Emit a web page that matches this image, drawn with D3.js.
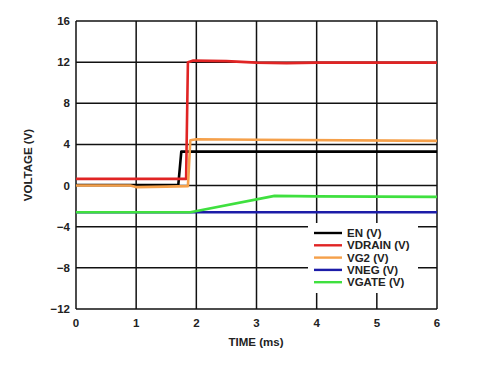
<!DOCTYPE html>
<html><head><meta charset="utf-8">
<script src="https://cdn.jsdelivr.net/npm/d3@7"></script>
<style>body{margin:0;background:#fff;}svg{display:block;}</style>
</head><body><svg id="c" width="483" height="365"></svg>
<script>
const xTicks = [0,1,2,3,4,5,6];
const yTicks = [-12,-8,-4,0,4,8,12,16];
const seriesNames = ["EN (V)","VDRAIN (V)","VG2 (V)","VNEG (V)","VGATE (V)"];
const seriesColors = ["#000000","#e02424","#f5a04a","#1c1ca8","#3fe03f"];
const enT = [0,1.70,1.75,6];
const enV = [0.05,0.05,3.3,3.3];
const vdrainT = [0,1.83,1.86,1.95,2.5,3.0,3.5,4.0,6];
const vdrainV = [0.65,0.65,12.0,12.15,12.1,11.95,11.9,11.95,11.95];
const vg2T = [0,0.9,1.0,1.5,1.86,1.9,2.0,3.0,6];
const vg2V = [0,0,-0.15,-0.1,-0.05,4.4,4.5,4.45,4.35];
const vnegT = [0,6];
const vnegV = [-2.6,-2.6];
const vgateT = [0,1.9,3.3,4,6];
const vgateV = [-2.6,-2.6,-1.0,-1.05,-1.1];

const svg = d3.select("#c");
const L=76,R=437,T=21,B=309;
const x = d3.scaleLinear().domain([0,6]).range([L,R]);
const y = d3.scaleLinear().domain([-12,16]).range([B,T]);
const font = "Liberation Sans, Arial, sans-serif";

// gridlines
const g = svg.append("g");
g.selectAll(".vx").data(xTicks).join("line")
 .attr("x1",d=>x(d)).attr("x2",d=>x(d)).attr("y1",T).attr("y2",B)
 .attr("stroke","#111").attr("stroke-width",1.5);
g.selectAll(".hy").data(yTicks).join("line")
 .attr("x1",L).attr("x2",R).attr("y1",d=>y(d)).attr("y2",d=>y(d))
 .attr("stroke","#111").attr("stroke-width",1.5);

// legend box background (covers grid)
svg.append("rect").attr("x",308).attr("y",223).attr("width",110).attr("height",70).attr("fill","#fff");

// series
const series = [
 {t:vnegT,v:vnegV,c:seriesColors[3]},
 {t:vgateT,v:vgateV,c:seriesColors[4]},
 {t:enT,v:enV,c:seriesColors[0]},
 {t:vdrainT,v:vdrainV,c:seriesColors[1]},
 {t:vg2T,v:vg2V,c:seriesColors[2]},
];
const line = d3.line().x(d=>x(d[0])).y(d=>y(d[1]));
series.forEach(s=>{
 svg.append("path").attr("d",line(s.t.map((t,i)=>[t,s.v[i]])))
  .attr("fill","none").attr("stroke",s.c).attr("stroke-width",2.6).attr("stroke-linejoin","round");
});

// axes labels
svg.append("g").selectAll("text").data(yTicks).join("text")
 .attr("x",70).attr("y",d=>y(d)+4).attr("text-anchor","end")
 .attr("font-family",font).attr("font-weight","bold").attr("font-size",11.5).attr("fill","#222")
 .text(d=>d<0?"\u2212"+Math.abs(d):d);
svg.append("g").selectAll("text").data(xTicks).join("text")
 .attr("x",d=>x(d)).attr("y",327).attr("text-anchor","middle")
 .attr("font-family",font).attr("font-weight","bold").attr("font-size",11.5).attr("fill","#222")
 .text(d=>d);
svg.append("text").attr("x",256).attr("y",346).attr("text-anchor","middle")
 .attr("font-family",font).attr("font-weight","bold").attr("font-size",11.5).attr("fill","#222").text("TIME (ms)");
svg.append("text").attr("transform","translate(32,165) rotate(-90)").attr("text-anchor","middle")
 .attr("font-family",font).attr("font-weight","bold").attr("font-size",11.5).attr("fill","#222").text("VOLTAGE (V)");

// legend
const lg = svg.append("g");
seriesNames.forEach((n,i)=>{
 const yy = 233 + i*12.3;
 lg.append("line").attr("x1",314).attr("x2",342).attr("y1",yy).attr("y2",yy)
  .attr("stroke",seriesColors[i]).attr("stroke-width",2.4);
 lg.append("text").attr("x",347).attr("y",yy+4).attr("font-family",font).attr("font-weight","bold")
  .attr("font-size",11.5).attr("fill","#222").text(n);
});
</script></body></html>
